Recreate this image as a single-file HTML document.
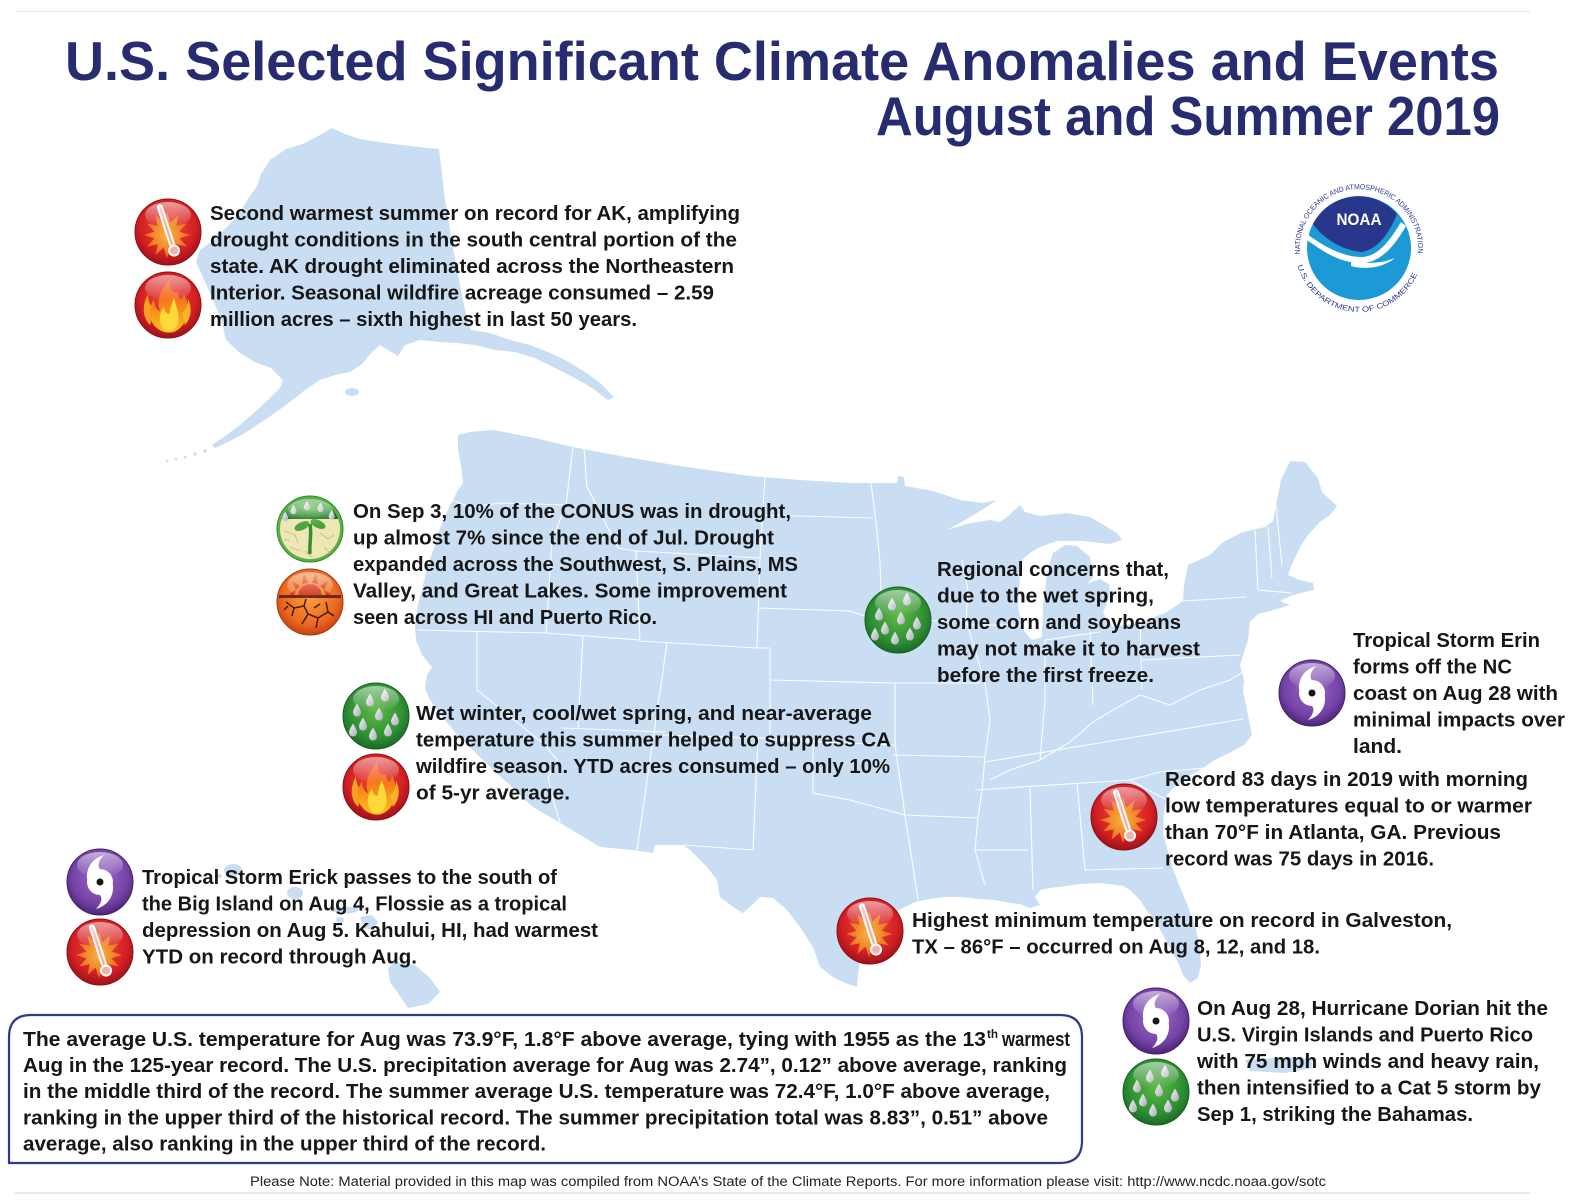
<!DOCTYPE html>
<html>
<head>
<meta charset="utf-8">
<style>
  html,body{margin:0;padding:0;background:#fff;}
  svg{display:block;}
  .h{font-family:"Liberation Sans",Arial,sans-serif;font-weight:bold;font-size:55px;fill:#272b6f;}
  .t{font-family:"Liberation Sans",Arial,sans-serif;font-weight:bold;font-size:20px;fill:#161616;}
  .n{font-family:"Liberation Sans",Arial,sans-serif;font-size:13.5px;fill:#222;}
  .r{font-family:"Liberation Sans",Arial,sans-serif;font-size:7.4px;fill:#2b3990;}
</style>
</head>
<body>
<svg xmlns="http://www.w3.org/2000/svg" width="1575" height="1200" viewBox="0 0 1575 1200">
<defs>
  <radialGradient id="gRed" cx="50%" cy="42%" r="58%">
    <stop offset="0" stop-color="#f04a3a"/>
    <stop offset="0.72" stop-color="#d21f24"/>
    <stop offset="1" stop-color="#9c1219"/>
  </radialGradient>
  <radialGradient id="gGreen" cx="50%" cy="42%" r="58%">
    <stop offset="0" stop-color="#5cb944"/>
    <stop offset="0.72" stop-color="#2e8e33"/>
    <stop offset="1" stop-color="#1b6a25"/>
  </radialGradient>
  <radialGradient id="gPurple" cx="50%" cy="42%" r="58%">
    <stop offset="0" stop-color="#9d6acb"/>
    <stop offset="0.72" stop-color="#7543a5"/>
    <stop offset="1" stop-color="#4e2479"/>
  </radialGradient>
  <radialGradient id="gOrange" cx="50%" cy="42%" r="58%">
    <stop offset="0" stop-color="#f8a040"/>
    <stop offset="0.72" stop-color="#ec6820"/>
    <stop offset="1" stop-color="#c44314"/>
  </radialGradient>
  <radialGradient id="gStar" cx="50%" cy="50%" r="50%">
    <stop offset="0" stop-color="#f6b640"/>
    <stop offset="1" stop-color="#ec6a1c"/>
  </radialGradient>
  <linearGradient id="gFlame" x1="0" y1="1" x2="0" y2="0">
    <stop offset="0" stop-color="#fcc21c"/>
    <stop offset="1" stop-color="#f0441a"/>
  </linearGradient>
  <linearGradient id="gDrop" x1="0" y1="0" x2="1" y2="1">
    <stop offset="0" stop-color="#f2f3f5"/>
    <stop offset="1" stop-color="#a8adb6"/>
  </linearGradient>
  <linearGradient id="gloss" x1="0" y1="0" x2="0" y2="1">
    <stop offset="0" stop-color="#fff" stop-opacity="0.55"/>
    <stop offset="1" stop-color="#fff" stop-opacity="0"/>
  </linearGradient>
  <path id="drop" d="M0,-6.5 C2,-3 4,0 4,2.5 A4,4 0 0 1 -4,2.5 C-4,0 -2,-3 0,-6.5 Z" fill="url(#gDrop)"/>

  <g id="ic-thermo">
    <circle r="33" fill="url(#gRed)" stroke="#8e1016" stroke-width="1"/>
    <polygon fill="url(#gStar)" transform="translate(-1,3)" points="23,0 12.6,3.4 19.9,11.5 9.2,9.2 11.5,19.9 3.4,12.6 0,23 -3.4,12.6 -11.5,19.9 -9.2,9.2 -19.9,11.5 -12.6,3.4 -23,0 -12.6,-3.4 -19.9,-11.5 -9.2,-9.2 -11.5,-19.9 -3.4,-12.6 0,-23 3.4,-12.6 11.5,-19.9 9.2,-9.2 19.9,-11.5 12.6,-3.4"/>
    <g transform="rotate(-18)">
      <rect x="-3" y="-29" width="6" height="44" rx="3" fill="#fff"/>
      <rect x="-1.2" y="-26" width="2.4" height="40" fill="#f3b0a8"/>
      <circle cx="0" cy="19.5" r="5" fill="#f3b0a8" stroke="#fff" stroke-width="2"/>
    </g>
    <ellipse cx="0" cy="-17" rx="23" ry="13" fill="url(#gloss)"/>
  </g>

  <g id="ic-fire">
    <circle r="33" fill="url(#gRed)" stroke="#8e1016" stroke-width="1"/>
    <path fill="#f8a020" d="M-18,20 C-27,11 -25,-2 -20,-11 C-20,-2 -16,3 -13,5 Z"/>
    <path fill="url(#gFlame)" d="M-4,27 C-18,22 -22,8 -14,-6 C-14,2 -10,6 -8,6 C-12,-6 -6,-16 2,-27 C0,-16 6,-10 10,-13 C10,-6 14,-2 16,-11 C23,2 21,18 8,26 C4,28 0,28 -4,27 Z"/>
    <path fill="#ffd83a" d="M-2,26 C-10,20 -10,10 -4,2 C-3,8 0,10 2,8 C2,2 4,-2 6,-7 C9,4 12,10 10,18 C8,24 4,27 -2,26 Z"/>
    <path fill="#f7b52a" d="M17,20 C24,12 24,2 20,-6 C20,2 17,6 14,8 Z"/>
    <ellipse cx="0" cy="-17" rx="23" ry="13" fill="url(#gloss)"/>
  </g>

  <g id="ic-rain">
    <circle r="33" fill="url(#gGreen)" stroke="#17601f" stroke-width="1"/>
    <use href="#drop" x="-19" y="-6"/>
    <use href="#drop" x="-6" y="-16"/>
    <use href="#drop" x="9" y="-21"/>
    <use href="#drop" x="-13" y="8"/>
    <use href="#drop" x="3" y="-2"/>
    <use href="#drop" x="19" y="3"/>
    <use href="#drop" x="-3" y="18"/>
    <use href="#drop" x="12" y="14"/>
    <use href="#drop" x="-23" y="14"/>
    <ellipse cx="0" cy="-17" rx="23" ry="13" fill="url(#gloss)"/>
  </g>

  <g id="ic-hurr">
    <circle r="33" fill="url(#gPurple)" stroke="#45206d" stroke-width="1"/>
    <circle r="13" fill="#fff"/>
    <path fill="#fff" d="M-13,-3 C-14,-16 -6,-24 4,-27 C-2,-21 -3,-15 1,-12 Z"/>
    <path fill="#fff" d="M13,3 C14,16 6,24 -4,27 C2,21 3,15 -1,12 Z"/>
    <circle r="3.5" fill="#151515"/>
    <ellipse cx="0" cy="-17" rx="23" ry="13" fill="url(#gloss)"/>
  </g>

  <g id="ic-plant">
    <circle r="33" fill="#59b244" stroke="#2f8a2e" stroke-width="1"/>
    <circle r="30" fill="#efe6b6"/>
    <path d="M-28.3,-10 A30,30 0 0 1 28.3,-10 Z" fill="url(#gGreen)"/>
    <g transform="scale(0.75)">
      <use href="#drop" x="-22" y="-26"/>
      <use href="#drop" x="-4" y="-31"/>
      <use href="#drop" x="14" y="-29"/>
      <use href="#drop" x="29" y="-19"/>
      <use href="#drop" x="-33" y="-17"/>
    </g>
    <path d="M-25,2 L-15,6 L-12,14 M-20,18 L-10,22 M10,4 L18,10 L24,6 M14,18 L20,24 M-5,22 L2,28 M-26,10 L-20,12" stroke="#cbb985" stroke-width="0.9" fill="none"/>
    <path d="M0,25 C-1,15 2,6 0,-5" stroke="#3b8c2b" stroke-width="3.5" fill="none"/>
    <ellipse cx="-8" cy="-3" rx="8" ry="4" transform="rotate(-25 -8 -3)" fill="#4ca53a"/>
    <ellipse cx="8" cy="-5" rx="8" ry="4" transform="rotate(25 8 -5)" fill="#4ca53a"/>
    <ellipse cx="0" cy="-17" rx="23" ry="13" fill="url(#gloss)"/>
  </g>

  <g id="ic-crack">
    <circle r="33" fill="url(#gOrange)" stroke="#a83a12" stroke-width="1"/>
    <path d="M-12,-6 A12,12 0 0 1 12,-6 Z" fill="#d8341a"/>
    <path fill="#d8341a" d="M-21,-8 L-14,-12 L-16,-6 Z M-18,-21 L-10,-16 L-14,-12 Z M-6,-29 L-2,-19 L-8,-18 Z M6,-29 L8,-18 L2,-19 Z M18,-21 L14,-12 L10,-16 Z M21,-8 L16,-6 L14,-12 Z"/>
    <rect x="-31" y="-7" width="62" height="3" fill="#6b2a10"/>
    <path d="M-24,0 L-16,6 L-18,14 M-16,6 L-6,4 L-2,12 L-8,22 M-2,12 L8,16 L6,26 M8,16 L18,10 L24,14 M18,10 L16,0 M-6,4 L-4,-3 M10,2 L4,6 M-26,8 L-22,4" stroke="#4a1c08" stroke-width="1.5" fill="none"/>
    <ellipse cx="0" cy="-17" rx="23" ry="13" fill="url(#gloss)"/>
  </g>
</defs>

<rect width="1575" height="1200" fill="#fff"/>
<line x1="15" y1="11.5" x2="1530" y2="11.5" stroke="#e6e6e6" stroke-width="1"/>
<line x1="15" y1="1193" x2="1530" y2="1193" stroke="#e2e2e2" stroke-width="1.5"/>

<!-- MAP -->
<g fill="#c9ddf3">
  <!-- Alaska -->
  <polygon points="332,128 345,134 360,139 386,143 410,146 439,149 445,200 455,260 465,310 471,330 490,333 510,340 530,345 548,352 565,360 585,372 600,383 614,397 608,400 592,388 575,378 555,368 535,358 515,352 495,350 475,345 457,343 440,342 420,340 405,345 398,356 388,350 380,345 372,352 362,364 350,372 335,375 320,380 305,390 290,402 275,413 260,423 245,433 228,442 215,448 212,445 225,436 240,425 255,412 268,400 280,388 283,380 271,368 255,362 240,353 226,340 222,322 214,302 205,282 196,262 200,250 214,240 228,226 240,212 250,196 257,186 261,174 270,160 286,149 300,145 307,142 320,135"/>
  <ellipse cx="352" cy="392" rx="7" ry="4"/>
  <circle cx="205" cy="451" r="1.8"/><circle cx="195" cy="454" r="1.6"/><circle cx="185" cy="457" r="1.5"/><circle cx="176" cy="459" r="1.4"/><circle cx="167" cy="461" r="1.3"/>
  <!-- CONUS -->
  <polygon points="458,435 470,432 493,430 530,437 573,447 620,456 680,466 750,476 800,480 850,483 897,483 898,476 904,477 905,486 933,491 960,500 983,503 997,500 985,508 965,520 947,530 967,524 990,520 1000,522 1007,517 1020,505 1025,512 1040,516 1067,513 1090,517 1117,533 1122,540 1110,544 1083,541 1057,541 1040,547 1030,553 1022,560 1020,575 1018,607 1023,630 1032,640 1042,637 1043,607 1047,573 1053,553 1065,545 1077,546 1090,557 1093,577 1087,584 1100,579 1110,585 1108,600 1103,613 1113,627 1140,623 1167,612 1183,601 1184,585 1188,565 1210,555 1223,542 1243,532 1265,527 1273,521 1276,505 1281,480 1290,461 1305,462 1318,478 1322,492 1337,506 1330,515 1320,522 1308,535 1300,547 1293,562 1288,575 1300,580 1313,583 1314,590 1305,592 1293,595 1280,601 1290,605 1270,611 1258,614 1250,622 1248,640 1240,665 1244,680 1243,692 1246,705 1248,716 1252,735 1244,745 1233,751 1213,761 1200,770 1187,777 1175,786 1167,795 1164,812 1163,833 1168,852 1173,869 1180,887 1187,904 1195,925 1200,947 1201,965 1198,978 1190,983 1183,975 1178,962 1170,948 1163,935 1155,920 1147,911 1140,900 1130,890 1123,886 1100,883 1080,884 1067,886 1050,888 1040,890 1035,897 1040,905 1030,908 1020,904 1010,903 995,900 980,899 960,897 945,897 930,899 915,902 905,907 890,915 875,930 865,945 860,960 858,975 857,987 845,983 833,977 820,967 813,947 800,927 787,910 773,898 760,897 752,905 743,913 733,907 720,897 717,880 707,867 700,860 690,850 683,845 655,845 653,853 633,850 600,847 567,827 533,807 522,797 510,785 495,772 483,760 475,752 460,738 445,720 430,700 425,688 427,675 432,667 422,655 416,640 415,625 418,605 423,585 428,565 435,545 440,528 447,512 453,500 458,490 463,483 461,465 458,450"/>
  <!-- Hawaii -->
  <ellipse cx="233" cy="870" rx="9" ry="6"/>
  <ellipse cx="219" cy="876" rx="3" ry="2"/>
  <ellipse cx="295" cy="893" rx="8" ry="6"/>
  <ellipse cx="345" cy="910" rx="13" ry="3.5"/>
  <ellipse cx="340" cy="920" rx="4" ry="3"/>
  <polygon points="360,917 372,915 378,922 374,930 364,928"/>
  <polygon points="395,962 415,965 430,978 440,992 428,1004 408,1008 400,996 390,982 388,968"/>
  <!-- Puerto Rico -->
  <polygon points="1245,1060 1290,1057 1311,1059 1313,1068 1285,1073 1250,1071"/>
</g>

<!-- State lines -->
<path fill="none" stroke="#ffffff" stroke-width="1.1" stroke-opacity="0.95" d="
M452,500 L470,507 L500,503 L566,505
M573,447 L566,505 L552,540 L546,633
M417,630 L546,633 L640,640
M477,632 L477,690 L545,745 L557,760 L548,778 L553,800 L560,822
M583,636 L578,728
M562,728 L665,732
M584,449 L587,487 L602,516 L618,548 L636,551
M636,551 L640,641
M636,551 L760,558
M765,476 L760,558 L757,648
M640,641 L757,648 L770,648
M762,515 L873,518
M758,608 L850,611 L882,622
M871,483 L876,522 L880,562 L882,622
M770,648 L770,740
M770,680 L893,683
M667,643 L637,850
M662,735 L758,738
M758,738 L753,850
M683,845 L753,850
M758,738 L813,740 L813,793 L850,800 L905,815
M770,740 L895,745
M895,683 L895,745 L905,815
M905,815 L912,860 L918,900
M905,815 L978,818
M893,755 L985,757
M882,622 L966,620
M893,683 L980,683
M962,560 L968,590 L966,620 L975,650 L985,683 L990,720 L985,757 L982,790 L978,818 L975,850 L985,885
M966,625 L1025,625
M1045,640 L1045,700 L1040,760
M1045,640 L1100,632
M1090,632 L1093,705
M990,780 L1010,770 L1040,760 L1070,742 L1093,722 L1120,706 L1140,695
M1140,622 L1142,690
M1183,601 L1247,597
M1142,660 L1240,655
M1140,695 L1170,705 L1200,690 L1230,680 L1243,672
M985,762 L1243,719
M975,790 L1130,780
M1130,780 L1160,772 L1205,768
M1130,780 L1167,800
M1030,788 L1033,890
M1077,783 L1085,870
M1085,870 L1163,868
M975,850 L1028,850
M1255,530 L1258,590
M1268,527 L1272,578
M1258,590 L1292,593
M1276,505 L1282,565"/>

<!-- TITLE -->
<text class="h" x="65" y="80" textLength="1434" lengthAdjust="spacingAndGlyphs">U.S. Selected Significant Climate Anomalies and Events</text>
<text class="h" x="876" y="135" textLength="624" lengthAdjust="spacingAndGlyphs">August and Summer 2019</text>

<!-- NOAA logo -->
<g transform="translate(1359,248)">
  <circle r="52" fill="#1b9ad6"/>
  <path d="M-46,-24 A51,51 0 0 1 38,-34 C30,-14 18,2 2,4 C-18,2 -36,-10 -46,-24 Z" fill="#28378b"/>
  <path d="M-52,-14 C-36,-2 -16,9 2,9 C16,9 28,-2 42,-26 L47,-22 C32,4 18,15 2,15 C-20,15 -38,2 -52,-8 Z" fill="#fff"/>
  <path d="M-8,12 C4,16 22,16 36,10 C24,20 6,22 -8,18 Z" fill="#fff"/>
  <text x="0" y="-23" text-anchor="middle" font-family="Liberation Sans, Arial, sans-serif" font-weight="bold" font-size="17" fill="#fff" textLength="45" lengthAdjust="spacingAndGlyphs">NOAA</text>
  <path id="arcTop" d="M-58.7,6.2 A59,59 0 1 1 58.3,9.2" fill="none"/>
  <path id="arcBot" d="M-61.5,17.6 A64,64 0 0 0 60.5,20.8" fill="none"/>
  <text class="r"><textPath href="#arcTop" textLength="196" lengthAdjust="spacingAndGlyphs">NATIONAL OCEANIC AND ATMOSPHERIC ADMINISTRATION</textPath></text>
  <text class="r" font-size="8"><textPath href="#arcBot" textLength="156" lengthAdjust="spacingAndGlyphs">U.S. DEPARTMENT OF COMMERCE</textPath></text>
</g>

<!-- ICONS -->
<use href="#ic-thermo" x="168" y="232"/>
<use href="#ic-fire" x="168" y="305"/>
<use href="#ic-plant" x="310" y="529"/>
<use href="#ic-crack" x="310" y="602"/>
<use href="#ic-rain" x="376" y="716"/>
<use href="#ic-fire" x="376" y="787"/>
<use href="#ic-rain" x="898" y="620"/>
<use href="#ic-hurr" x="1312" y="693"/>
<use href="#ic-thermo" x="1124" y="817"/>
<use href="#ic-thermo" x="870" y="931"/>
<use href="#ic-hurr" x="100" y="882"/>
<use href="#ic-thermo" x="100" y="952"/>
<use href="#ic-hurr" x="1156" y="1021"/>
<use href="#ic-rain" x="1156" y="1092"/>

<!-- AK block -->
<text class="t" x="210" y="220" textLength="530" lengthAdjust="spacingAndGlyphs">Second warmest summer on record for AK, amplifying</text>
<text class="t" x="210" y="246.5" textLength="527" lengthAdjust="spacingAndGlyphs">drought conditions in the south central portion of the</text>
<text class="t" x="210" y="273" textLength="524" lengthAdjust="spacingAndGlyphs">state. AK drought eliminated across the Northeastern</text>
<text class="t" x="210" y="299.5" textLength="504" lengthAdjust="spacingAndGlyphs">Interior. Seasonal wildfire acreage consumed – 2.59</text>
<text class="t" x="210" y="326" textLength="427" lengthAdjust="spacingAndGlyphs">million acres – sixth highest in last 50 years.</text>

<!-- Drought block -->
<text class="t" x="353" y="518" textLength="438" lengthAdjust="spacingAndGlyphs">On Sep 3, 10% of the CONUS was in drought,</text>
<text class="t" x="353" y="544.5" textLength="421" lengthAdjust="spacingAndGlyphs">up almost 7% since the end of Jul. Drought</text>
<text class="t" x="353" y="571" textLength="445" lengthAdjust="spacingAndGlyphs">expanded across the Southwest, S. Plains, MS</text>
<text class="t" x="353" y="597.5" textLength="434" lengthAdjust="spacingAndGlyphs">Valley, and Great Lakes. Some improvement</text>
<text class="t" x="353" y="624" textLength="304" lengthAdjust="spacingAndGlyphs">seen across HI and Puerto Rico.</text>

<!-- CA block -->
<text class="t" x="416" y="720" textLength="456" lengthAdjust="spacingAndGlyphs">Wet winter, cool/wet spring, and near-average</text>
<text class="t" x="416" y="746.5" textLength="475" lengthAdjust="spacingAndGlyphs">temperature this summer helped to suppress CA</text>
<text class="t" x="416" y="773" textLength="474" lengthAdjust="spacingAndGlyphs">wildfire season. YTD acres consumed – only 10%</text>
<text class="t" x="416" y="799.5" textLength="154" lengthAdjust="spacingAndGlyphs">of 5-yr average.</text>

<!-- Regional block -->
<text class="t" x="937" y="576" textLength="232" lengthAdjust="spacingAndGlyphs">Regional concerns that,</text>
<text class="t" x="937" y="602.5" textLength="217" lengthAdjust="spacingAndGlyphs">due to the wet spring,</text>
<text class="t" x="937" y="629" textLength="244" lengthAdjust="spacingAndGlyphs">some corn and soybeans</text>
<text class="t" x="937" y="655.5" textLength="263" lengthAdjust="spacingAndGlyphs">may not make it to harvest</text>
<text class="t" x="937" y="682" textLength="217" lengthAdjust="spacingAndGlyphs">before the first freeze.</text>

<!-- Erin block -->
<text class="t" x="1353" y="647" textLength="187" lengthAdjust="spacingAndGlyphs">Tropical Storm Erin</text>
<text class="t" x="1353" y="673.5" textLength="159" lengthAdjust="spacingAndGlyphs">forms off the NC</text>
<text class="t" x="1353" y="700" textLength="205" lengthAdjust="spacingAndGlyphs">coast on Aug 28 with</text>
<text class="t" x="1353" y="726.5" textLength="212" lengthAdjust="spacingAndGlyphs">minimal impacts over</text>
<text class="t" x="1353" y="753" textLength="49" lengthAdjust="spacingAndGlyphs">land.</text>

<!-- Atlanta block -->
<text class="t" x="1165" y="786" textLength="363" lengthAdjust="spacingAndGlyphs">Record 83 days in 2019 with morning</text>
<text class="t" x="1165" y="812.5" textLength="367" lengthAdjust="spacingAndGlyphs">low temperatures equal to or warmer</text>
<text class="t" x="1165" y="839" textLength="336" lengthAdjust="spacingAndGlyphs">than 70°F in Atlanta, GA. Previous</text>
<text class="t" x="1165" y="865.5" textLength="269" lengthAdjust="spacingAndGlyphs">record was 75 days in 2016.</text>

<!-- Galveston block -->
<text class="t" x="912" y="927" textLength="540" lengthAdjust="spacingAndGlyphs">Highest minimum temperature on record in Galveston,</text>
<text class="t" x="912" y="953.5" textLength="408" lengthAdjust="spacingAndGlyphs">TX – 86°F – occurred on Aug 8, 12, and 18.</text>

<!-- Hawaii block -->
<text class="t" x="142" y="884" textLength="415" lengthAdjust="spacingAndGlyphs">Tropical Storm Erick passes to the south of</text>
<text class="t" x="142" y="910.5" textLength="425" lengthAdjust="spacingAndGlyphs">the Big Island on Aug 4, Flossie as a tropical</text>
<text class="t" x="142" y="937" textLength="456" lengthAdjust="spacingAndGlyphs">depression on Aug 5. Kahului, HI, had warmest</text>
<text class="t" x="142" y="963.5" textLength="275" lengthAdjust="spacingAndGlyphs">YTD on record through Aug.</text>

<!-- Dorian block -->
<text class="t" x="1197" y="1015" textLength="351" lengthAdjust="spacingAndGlyphs">On Aug 28, Hurricane Dorian hit the</text>
<text class="t" x="1197" y="1041.5" textLength="336" lengthAdjust="spacingAndGlyphs">U.S. Virgin Islands and Puerto Rico</text>
<text class="t" x="1197" y="1068" textLength="342" lengthAdjust="spacingAndGlyphs">with 75 mph winds and heavy rain,</text>
<text class="t" x="1197" y="1094.5" textLength="344" lengthAdjust="spacingAndGlyphs">then intensified to a Cat 5 storm by</text>
<text class="t" x="1197" y="1121" textLength="276" lengthAdjust="spacingAndGlyphs">Sep 1, striking the Bahamas.</text>

<!-- Summary box -->
<path d="M9,1163 L9,1037 Q9,1015 31,1015 L1060,1015 Q1082,1015 1082,1037 L1082,1141 Q1082,1163 1060,1163 Z" fill="#fff" stroke="#2e3a8e" stroke-width="2.2"/>
<text class="t" x="23" y="1046" textLength="963" lengthAdjust="spacingAndGlyphs">The average U.S. temperature for Aug was 73.9°F, 1.8°F above average, tying with 1955 as the 13</text>
<text class="t" x="987" y="1038" textLength="11" lengthAdjust="spacingAndGlyphs" style="font-size:12px">th</text>
<text class="t" x="1002" y="1046" textLength="68" lengthAdjust="spacingAndGlyphs">warmest</text>
<text class="t" x="23" y="1072" textLength="1044" lengthAdjust="spacingAndGlyphs">Aug in the 125-year record. The U.S. precipitation average for Aug was 2.74”, 0.12” above average, ranking</text>
<text class="t" x="23" y="1098" textLength="1027" lengthAdjust="spacingAndGlyphs">in the middle third of the record. The summer average U.S. temperature was 72.4°F, 1.0°F above average,</text>
<text class="t" x="23" y="1124.5" textLength="1025" lengthAdjust="spacingAndGlyphs">ranking in the upper third of the historical record. The summer precipitation total was 8.83”, 0.51” above</text>
<text class="t" x="23" y="1150.5" textLength="523" lengthAdjust="spacingAndGlyphs">average, also ranking in the upper third of the record.</text>

<!-- Note -->
<text class="n" x="250" y="1186" textLength="1076" lengthAdjust="spacingAndGlyphs">Please Note: Material provided in this map was compiled from NOAA’s State of the Climate Reports. For more information please visit: http://www.ncdc.noaa.gov/sotc</text>
</svg>
</body>
</html>
